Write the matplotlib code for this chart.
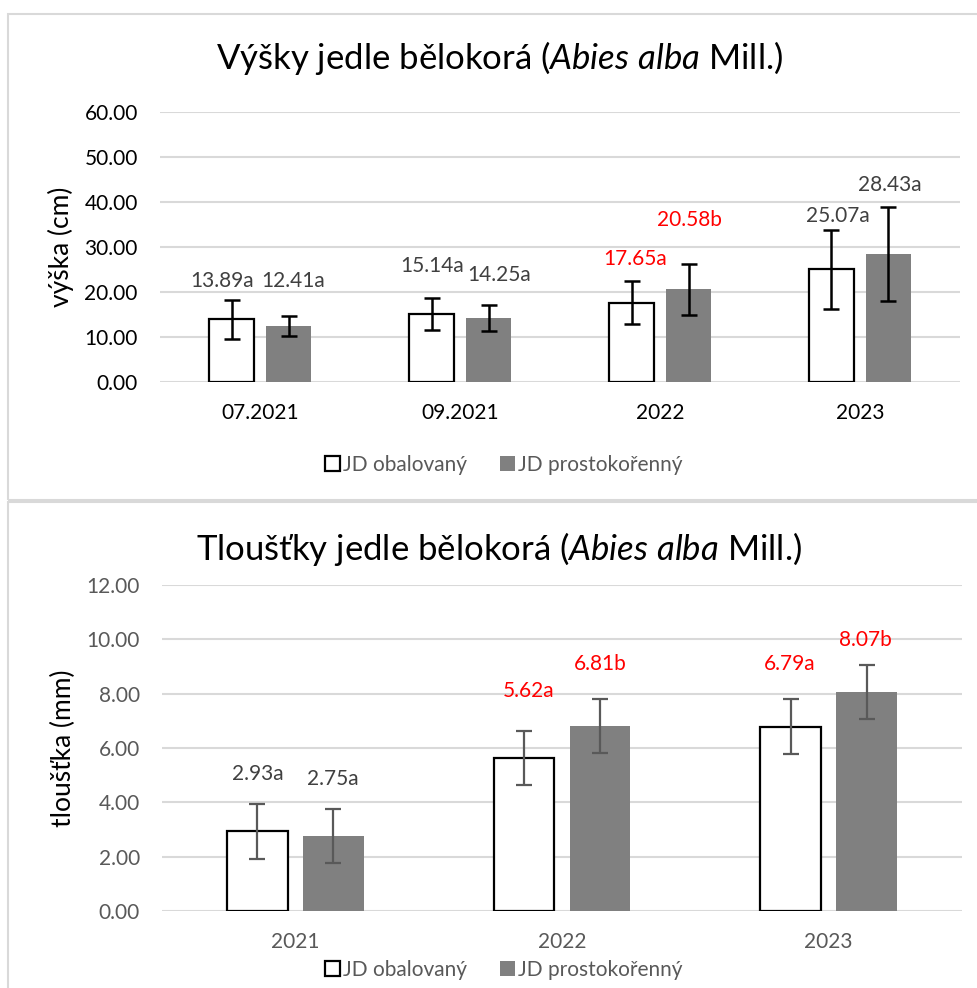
import matplotlib
matplotlib.use("Agg")
import matplotlib.pyplot as plt
import numpy as np
from matplotlib.patches import Rectangle, Patch

plt.rcParams['font.family'] = ['Lato', 'DejaVu Sans']
plt.rcParams['mathtext.fontset'] = 'custom'
plt.rcParams['mathtext.it'] = 'Lato:italic'
plt.rcParams['mathtext.rm'] = 'Lato'

# ---------------- data ----------------
h_categories = ["07.2021", "09.2021", "2022", "2023"]
h_obal = [13.89, 15.14, 17.65, 25.07]
h_prost = [12.41, 14.25, 20.58, 28.43]
h_obal_err = [4.3, 3.55, 4.75, 8.75]
h_prost_err = [2.2, 2.85, 5.7, 10.45]
h_obal_lbl = ["13.89a", "15.14a", "17.65a", "25.07a"]
h_prost_lbl = ["12.41a", "14.25a", "20.58b", "28.43a"]
h_obal_red = [False, False, True, False]
h_prost_red = [False, False, True, False]

d_categories = ["2021", "2022", "2023"]
d_obal = [2.93, 5.62, 6.79]
d_prost = [2.75, 6.81, 8.07]
d_obal_err = [1.0, 1.0, 1.0]
d_prost_err = [1.0, 1.0, 1.0]
d_obal_lbl = ["2.93a", "5.62a", "6.79a"]
d_prost_lbl = ["2.75a", "6.81b", "8.07b"]
d_obal_red = [False, True, True]
d_prost_red = [False, True, True]

series_names = ["JD obalovaný", "JD prostokořenný"]

# ---------------- layout (label placement) ----------------
h_obal_lbl_pos = [(-0.19, 22.4), (-0.14, 25.8), (-0.125, 27.3), (-0.11, 37.0)]
h_prost_lbl_pos = [(0.165, 22.4), (0.195, 23.8), (0.145, 36.0), (0.15, 43.8)]
d_obal_lbl_pos = [(-0.141, 5.05), (-0.124, 8.09), (-0.148, 9.08)]
d_prost_lbl_pos = [(0.141, 4.86), (0.143, 9.08), (0.139, 9.97)]

W, H = 978, 988
fig = plt.figure(figsize=(W / 100, H / 100), dpi=100)

GRID = "#D9D9D9"
GRAY_BAR = "#808080"
LBL_GRAY = "#404040"
RED = "#FF0000"

# chart frames
fig.patches.append(Rectangle((8 / W, 1 - 500 / H), 1.2, (500 - 14) / H, transform=fig.transFigure,
                             fill=False, edgecolor=GRID, lw=1.5))
fig.patches.append(Rectangle((8 / W, -0.1), 1.2, 0.1 + (988 - 502) / H, transform=fig.transFigure,
                             fill=False, edgecolor=GRID, lw=1.5))


def draw(ax, cats, obal, prost, oerr, perr, olbl, plbl, ored, pred, opos, ppos,
         ylim, step, ylabel, tickcolor, errcolor, errlw, capsize):
    x = np.arange(len(cats))
    off = 0.1425
    w = 0.228
    ax.set_axisbelow(True)
    ax.bar(x - off, obal, w, color="white", edgecolor="black", linewidth=1.6, zorder=2)
    ax.bar(x + off, prost, w, color=GRAY_BAR, edgecolor="none", zorder=2)
    ax.errorbar(x - off, obal, yerr=oerr, fmt="none", ecolor=errcolor, elinewidth=errlw,
                capsize=capsize, capthick=errlw, zorder=3)
    ax.errorbar(x + off, prost, yerr=perr, fmt="none", ecolor=errcolor, elinewidth=errlw,
                capsize=capsize, capthick=errlw, zorder=3)
    for i in range(len(cats)):
        ax.text(i + opos[i][0], opos[i][1], olbl[i], ha="center", va="center", fontsize=15,
                color=RED if ored[i] else LBL_GRAY)
        ax.text(i + ppos[i][0], ppos[i][1], plbl[i], ha="center", va="center", fontsize=15,
                color=RED if pred[i] else LBL_GRAY)
    ax.set_xlim(-0.5, len(cats) - 0.5)
    ax.set_ylim(0, ylim)
    ax.set_yticks(np.arange(0, ylim + step / 2, step))
    ax.yaxis.set_major_formatter(matplotlib.ticker.FormatStrFormatter("%.2f"))
    ax.set_xticks(x)
    ax.set_xticklabels(cats)
    ax.grid(axis="y", color=GRID, lw=1.5)
    for s in ax.spines.values():
        s.set_visible(False)
    ax.tick_params(axis="both", length=0, labelsize=15, labelcolor=tickcolor)
    ax.tick_params(axis="y", pad=16)
    ax.tick_params(axis="x", pad=15)
    ax.set_ylabel(ylabel, fontsize=19, color="black", labelpad=7.5)


ax1 = fig.add_axes([160 / W, 1 - 382 / H, 800 / W, 270 / H])
draw(ax1, h_categories, h_obal, h_prost, h_obal_err, h_prost_err, h_obal_lbl, h_prost_lbl,
     h_obal_red, h_prost_red, h_obal_lbl_pos, h_prost_lbl_pos, 60, 10, "výška (cm)",
     "black", "black", 1.8, 5.5)

ax2 = fig.add_axes([162 / W, 1 - 911 / H, 800 / W, 326 / H])
draw(ax2, d_categories, d_obal, d_prost, d_obal_err, d_prost_err, d_obal_lbl, d_prost_lbl,
     d_obal_red, d_prost_red, d_obal_lbl_pos, d_prost_lbl_pos, 12, 2, "tloušťka (mm)",
     "#595959", "#595959", 1.6, 6)

fig.text(500 / W, 1 - 58 / H, r"Výšky jedle bělokorá ($\mathit{Abies\ alba}$ Mill.)",
         ha="center", va="center", fontsize=25, color="black")
fig.text(499 / W, 1 - 549 / H, r"Tloušťky jedle bělokorá ($\mathit{Abies\ alba}$ Mill.)",
         ha="center", va="center", fontsize=25, color="black")

handles = [Patch(facecolor="white", edgecolor="black", linewidth=1.6),
           Patch(facecolor=GRAY_BAR, edgecolor="none")]
for yc in (465, 970):
    leg = fig.legend(handles, series_names, loc="center", bbox_to_anchor=(504 / W, 1 - yc / H),
                     ncol=2, frameon=False, fontsize=15, handlelength=0.7, handleheight=0.7,
                     handletextpad=0.15, columnspacing=1.6)
    for t in leg.get_texts():
        t.set_color("#595959")

fig.savefig("out.png", dpi=100)
